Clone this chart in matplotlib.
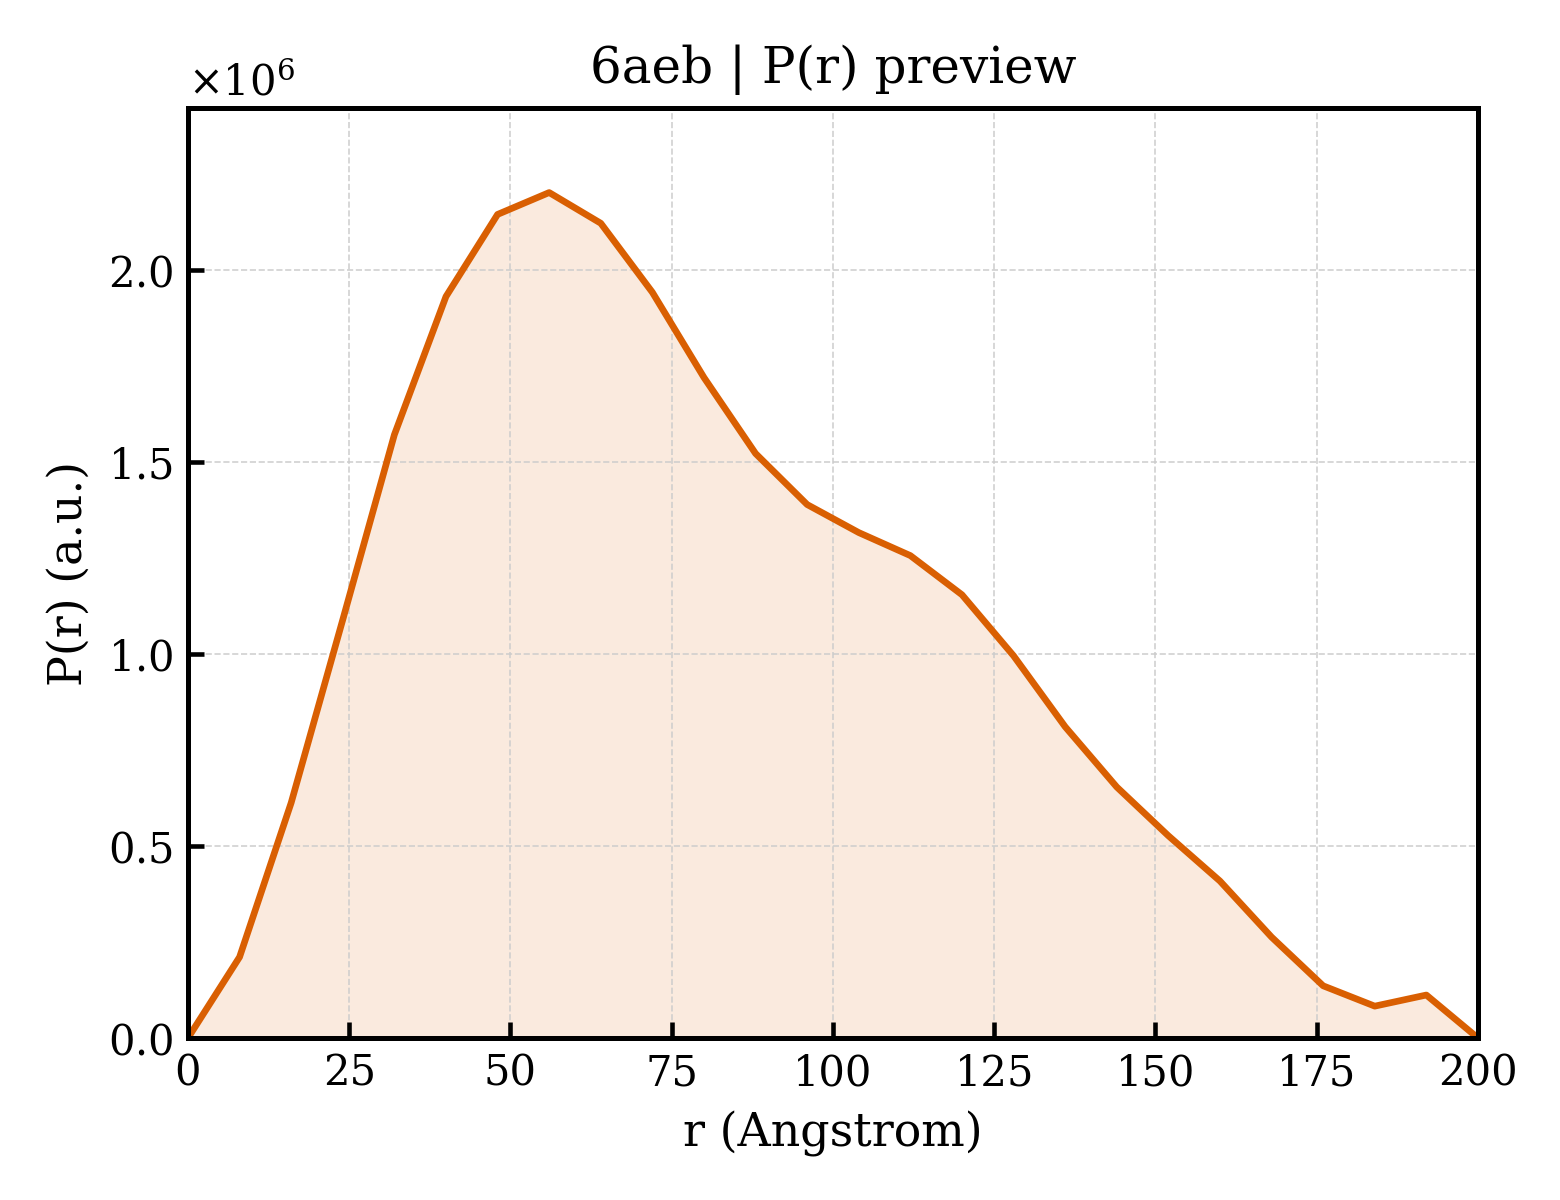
import numpy as np
import matplotlib
matplotlib.use("Agg")
import matplotlib.pyplot as plt
from matplotlib.ticker import ScalarFormatter

# ---- P(r) values read from the preview (r in Angstrom) ----
r = [0, 8, 16, 24, 32, 40, 48, 56, 64, 72, 80, 88, 96, 104, 112,
     120, 128, 136, 144, 152, 160, 168, 176, 184, 192, 200]
pr = [0.0, 0.211, 0.613, 1.09, 1.572, 1.932, 2.146, 2.203, 2.123, 1.943,
      1.721, 1.523, 1.390, 1.317, 1.257, 1.155, 0.996, 0.811, 0.654,
      0.527, 0.409, 0.263, 0.136, 0.083, 0.112, 0.0]
pr = np.array(pr) * 1e6

plt.rcParams["font.family"] = "DejaVu Serif"
plt.rcParams["mathtext.fontset"] = "dejavuserif"
plt.rcParams["axes.linewidth"] = 1.2

color = "#d95f02"
fig, ax = plt.subplots(figsize=(5.2, 4.0), dpi=300)
fig.subplots_adjust(left=0.1205, right=0.9474, top=0.91, bottom=0.135)

ax.plot(r, pr, color=color, lw=1.6)
ax.fill_between(r, pr, 0, color=color, alpha=0.13, lw=0)

ax.set_xlim(0, 200)
ax.set_ylim(0, pr.max() * 1.1)
fmt = ScalarFormatter(useMathText=True)
ax.yaxis.set_major_formatter(fmt)
ax.tick_params(direction="in", labelsize=10, width=1.1, length=3.8)
ax.yaxis.get_offset_text().set_fontsize(10)
ax.grid(True, ls="--", lw=0.4, color="#cccccc", alpha=0.9)

ax.set_xlabel("r (Angstrom)", fontsize=11)
ax.set_ylabel("P(r) (a.u.)", fontsize=11)
ax.set_title("6aeb | P(r) preview", fontsize=12)

plt.savefig("out.png", dpi=300)
